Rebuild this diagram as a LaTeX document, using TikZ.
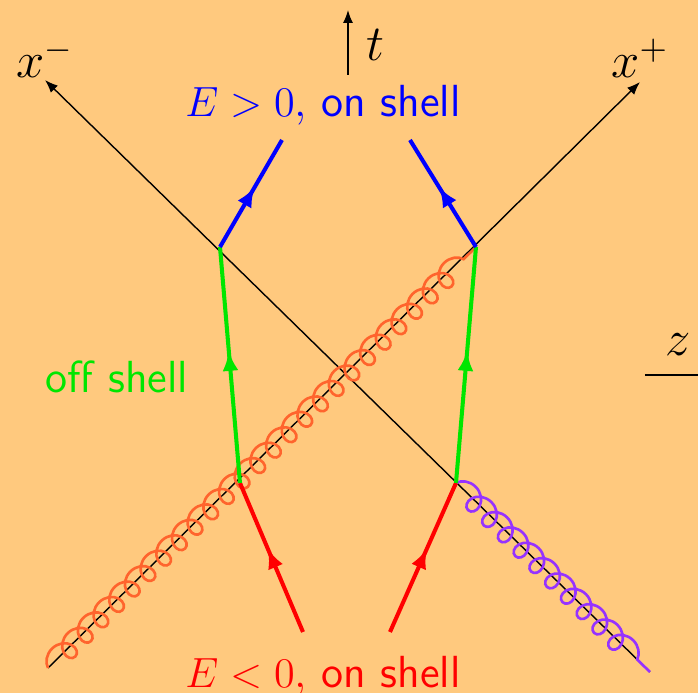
\documentclass[tikz,border=0pt]{standalone}
\usepackage{amsmath}
\usepackage{tikz}
\usetikzlibrary{arrows.meta}
\usetikzlibrary{decorations.markings}
\usetikzlibrary{decorations.pathmorphing}
\definecolor{bg_orange}{RGB}{255,201,126}
\definecolor{off_green}{RGB}{0,230,0}
\definecolor{gluon_orange}{RGB}{255,100,45}
\definecolor{gluon_purple}{RGB}{150,50,255}
\tikzset{
  axis_line/.style = {black, thin, -{Latex[length=1.3mm,width=1mm]}},
  fermion/.style = {line width=1.15pt, postaction={decorate},
    decoration={markings, mark=at position 0.56 with
      {\arrow{Latex[length=2mm,width=1.6mm]}}}},% ligne de quark
  gluon/.style = {line width=0.75pt, decorate,
    decoration={coil, aspect=1, amplitude=1.1mm, segment length=2.2mm}},% gluon
  axis_label/.style = {font=\Large, inner sep=0pt},
  shell_label/.style = {font=\fontsize{12.8}{15}\selectfont, inner sep=0pt, anchor=base}
}
\begin{document}
\begin{tikzpicture}
  \fill[bg_orange] (-3.48,-3.18) rectangle (3.50,3.75);
  \useasboundingbox (-3.48,-3.18) rectangle (3.50,3.75);
  % sommets
  \coordinate (ul) at (-1.28,1.28);
  \coordinate (ur) at (1.28,1.28);
  \coordinate (ll) at (-1.08,-1.08);
  \coordinate (lr) at (1.08,-1.08);
  % axes
  \coordinate (xm_start) at (3.02,-2.97);
  \coordinate (xm_end) at (-3.03,2.95);
  \coordinate (xp_start) at (-3.00,-2.93);
  \coordinate (xp_end) at (2.92,2.93);
  \coordinate (t_start) at (0,3.0);
  \coordinate (t_end) at (0,3.65);
  \coordinate (z_start) at (2.97,0);
  \coordinate (z_end) at (3.60,0);
  \draw[axis_line] (xm_start) -- (xm_end);
  \draw[axis_line] (xp_start) -- (xp_end);
  \draw[axis_line] (t_start) -- (t_end);
  \draw[black, thin] (z_start) -- (z_end);
  \node[axis_label] (xm_lbl) at (-3.03,3.17) {$x^-$};
  \node[axis_label] (xp_lbl) at (2.92,3.17) {$x^+$};
  \node[axis_label] (t_lbl) at (0.27,3.30) {$t$};
  \node[axis_label] (z_lbl) at (3.30,0.30) {$z$};
  % gluons
  \draw[gluon, gluon_orange] (xp_start) -- (ur);
  \draw[gluon, gluon_purple] (lr) -- (xm_start);
  % quarks
  \coordinate (blue_l) at (-0.66,2.35);
  \coordinate (blue_r) at (0.62,2.35);
  \coordinate (red_l) at (-0.45,-2.57);
  \coordinate (red_r) at (0.42,-2.57);
  \draw[fermion, red] (red_l) -- (ll);
  \draw[fermion, red] (red_r) -- (lr);
  \draw[fermion, off_green] (ll) -- (ul);
  \draw[fermion, off_green] (lr) -- (ur);
  \draw[fermion, blue] (ul) -- (blue_l);
  \draw[fermion, blue] (ur) -- (blue_r);
  % textes
  \node[shell_label, blue] (pos_lbl) at (-0.25,2.58) {$E>0$, \textsf{on shell}};
  \node[shell_label, red] (neg_lbl) at (-0.25,-3.13) {$E<0$, \textsf{on shell}};
  \node[shell_label, off_green] (off_lbl) at (-2.31,-0.18) {\textsf{off shell}};
\end{tikzpicture}
\end{document}
